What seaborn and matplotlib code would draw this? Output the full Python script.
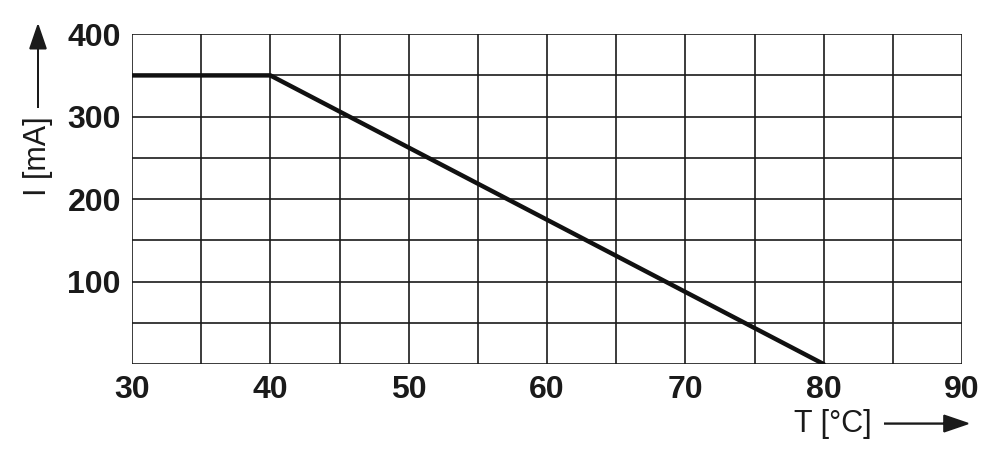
import matplotlib
matplotlib.use("Agg")
import matplotlib.pyplot as plt
import numpy as np
import pandas as pd
import seaborn as sns

# derating curve
temp_c = [30, 40, 80]
current_ma = [350, 350, 0]

x_ticks = [30, 40, 50, 60, 70, 80, 90]
y_ticks = [100, 200, 300, 400]

sns.set_style("white")
plt.rcParams["font.family"] = ["Liberation Sans", "DejaVu Sans"]

df = pd.DataFrame({"T": temp_c, "I": current_ma})

fig = plt.figure(figsize=(10, 4.68), dpi=100)
ax = fig.add_axes([0.132, 0.222, 0.830, 0.705])

# grid every 5 °C / 50 mA
for gx in np.arange(30, 91, 5):
    ax.axvline(gx, color="#1a1a1a", lw=1.2, zorder=1)
for gy in np.arange(0, 401, 50):
    ax.axhline(gy, color="#1a1a1a", lw=1.2, zorder=1)

sns.lineplot(data=df, x="T", y="I", ax=ax, color="#111111", lw=3.2,
             zorder=3, solid_joinstyle="miter")

ax.set_xlim(30, 90)
ax.set_ylim(0, 400)
ax.set_xticks(x_ticks)
ax.set_yticks(y_ticks)
ax.set_xticklabels([str(v) for v in x_ticks], fontsize=23, fontweight="bold")
ax.set_yticklabels([str(v) for v in y_ticks], fontsize=23, fontweight="bold")
ax.tick_params(axis="both", direction="out", length=6, width=1.2,
               color="#1a1a1a", pad=2, labelcolor="#1a1a1a")
ax.set_xlabel("")
ax.set_ylabel("")
for s in ax.spines.values():
    s.set_visible(False)

# axis labels with arrows
fig.text(0.833, 0.095, "T [°C]", fontsize=22, ha="center", va="center",
         color="#1a1a1a")
fig.patches.append(matplotlib.patches.FancyArrow(
    0.884, 0.095, 0.084, 0, width=0.0, head_width=0.035, head_length=0.024,
    length_includes_head=True, color="#1a1a1a", lw=1.2,
    transform=fig.transFigure, figure=fig))

fig.text(0.038, 0.667, "I [mA]", fontsize=22, ha="center", va="center",
         rotation=90, color="#1a1a1a")
fig.patches.append(matplotlib.patches.FancyArrow(
    0.038, 0.77, 0, 0.176, width=0.0, head_width=0.016, head_length=0.05,
    length_includes_head=True, color="#1a1a1a", lw=1.2,
    transform=fig.transFigure, figure=fig))

fig.savefig("out.png", dpi=100, facecolor="white")
